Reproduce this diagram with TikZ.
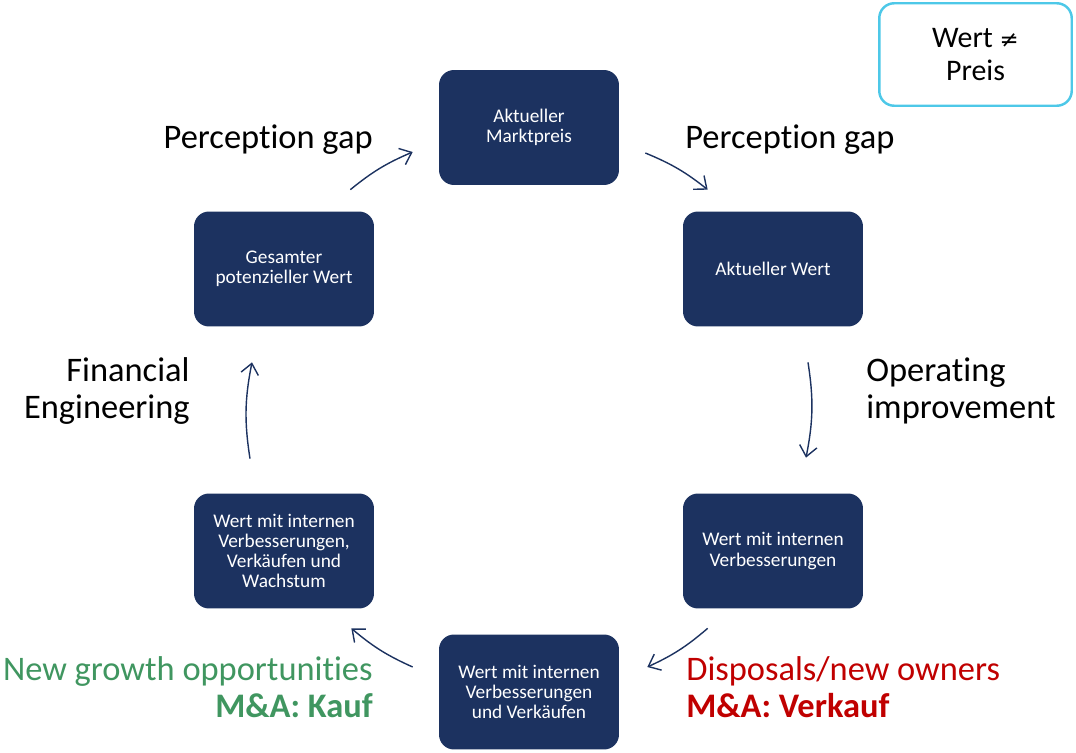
\documentclass[tikz,border=0pt]{standalone}
\usepackage{fontspec}
\setmainfont{Carlito}[Ligatures=NoCommon]
\newfontfamily\symfont{DejaVu Sans}
\usepackage{tikz}
\usetikzlibrary{positioning, arrows.meta}

\definecolor{navy}{RGB}{28,50,96}
\definecolor{kaufgreen}{RGB}{64,150,96}
\definecolor{verkaufred}{RGB}{192,0,0}
\definecolor{skyline}{RGB}{77,200,232}

\begin{document}
\begin{tikzpicture}[
  x=0.02cm, y=0.02cm,
  stage/.style={fill=navy, rounded corners=8.5pt, minimum width=3.6cm,
                minimum height=2.3cm, text=white, align=center,
                font=\fontsize{11}{11.5}\selectfont},
  note/.style={font=\fontsize{19.6}{21}\selectfont, inner sep=0pt},
  arr/.style={-{Straight Barb[length=6pt,width=10pt]}, line width=0.8pt, draw=navy},
]
\useasboundingbox (0,0) rectangle (1076,752);

% value stages
\node[stage] (top) at (529,624.5) {Aktueller\\Marktpreis};
\node[stage] (rt)  at (773,483)   {Aktueller Wert};
\node[stage] (rb)  at (773,201)   {Wert mit internen\\Verbesserungen};
\node[stage] (bot) at (529,60)    {Wert mit internen\\Verbesserungen\\und Verkäufen};
\node[stage] (lb)  at (284,201)   {Wert mit internen\\Verbesserungen,\\Verkäufen und\\Wachstum};
\node[stage] (lt)  at (284,483)   {Gesamter\\potenzieller Wert};

\node[draw=skyline, line width=1.4pt, rounded corners=8.5pt, minimum width=3.85cm,
      minimum height=2.05cm, align=center, font=\fontsize{17}{19}\selectfont]
  (hint) at (975.5,697.5) {Wert {\symfont\fontsize{13}{19}\selectfont ≠}\\Preis};

% labels
\node[note, anchor=east] (pgl) at (373,612) {Perception gap};
\node[note, anchor=west] (pgr) at (685,612) {Perception gap};
\node[note, anchor=east, align=right] (fe) at (190,361) {Financial\\Engineering};
\node[note, anchor=west, align=left] (oi) at (866,361) {Operating\\improvement};
\node[note, anchor=east, align=right, text=kaufgreen] (ng) at (373,65)
  {New growth opportunities\\{\bfseries M\&A: Kauf}};
\node[note, anchor=west, align=left, text=verkaufred] (dn) at (686,65)
  {Disposals/new owners\\{\bfseries M\&A: Verkauf}};

% cycle
\draw[arr] ([shift={(-24,21.5)}]lt.north east) to[bend left=8] ([shift={(-26,-24.5)}]top.west);
\draw[arr] ([shift={(26,-25.5)}]top.east) to[bend left=8] ([shift={(25,21.5)}]rt.north west);
\draw[arr] ([shift={(35,-35.5)}]rt.south) to[bend left=10] ([shift={(33,35.5)}]rb.north);
\draw[arr] ([shift={(25,-19.5)}]rb.south west) to[bend left=8] ([shift={(28,25)}]bot.east);
\draw[arr] ([shift={(-26,25)}]bot.west) to[bend left=8] ([shift={(-23,-19.5)}]lb.south east);
\draw[arr] ([shift={(-34,34.5)}]lb.north) to[bend left=10] ([shift={(-32,-35.5)}]lt.south);
\end{tikzpicture}
\end{document}
